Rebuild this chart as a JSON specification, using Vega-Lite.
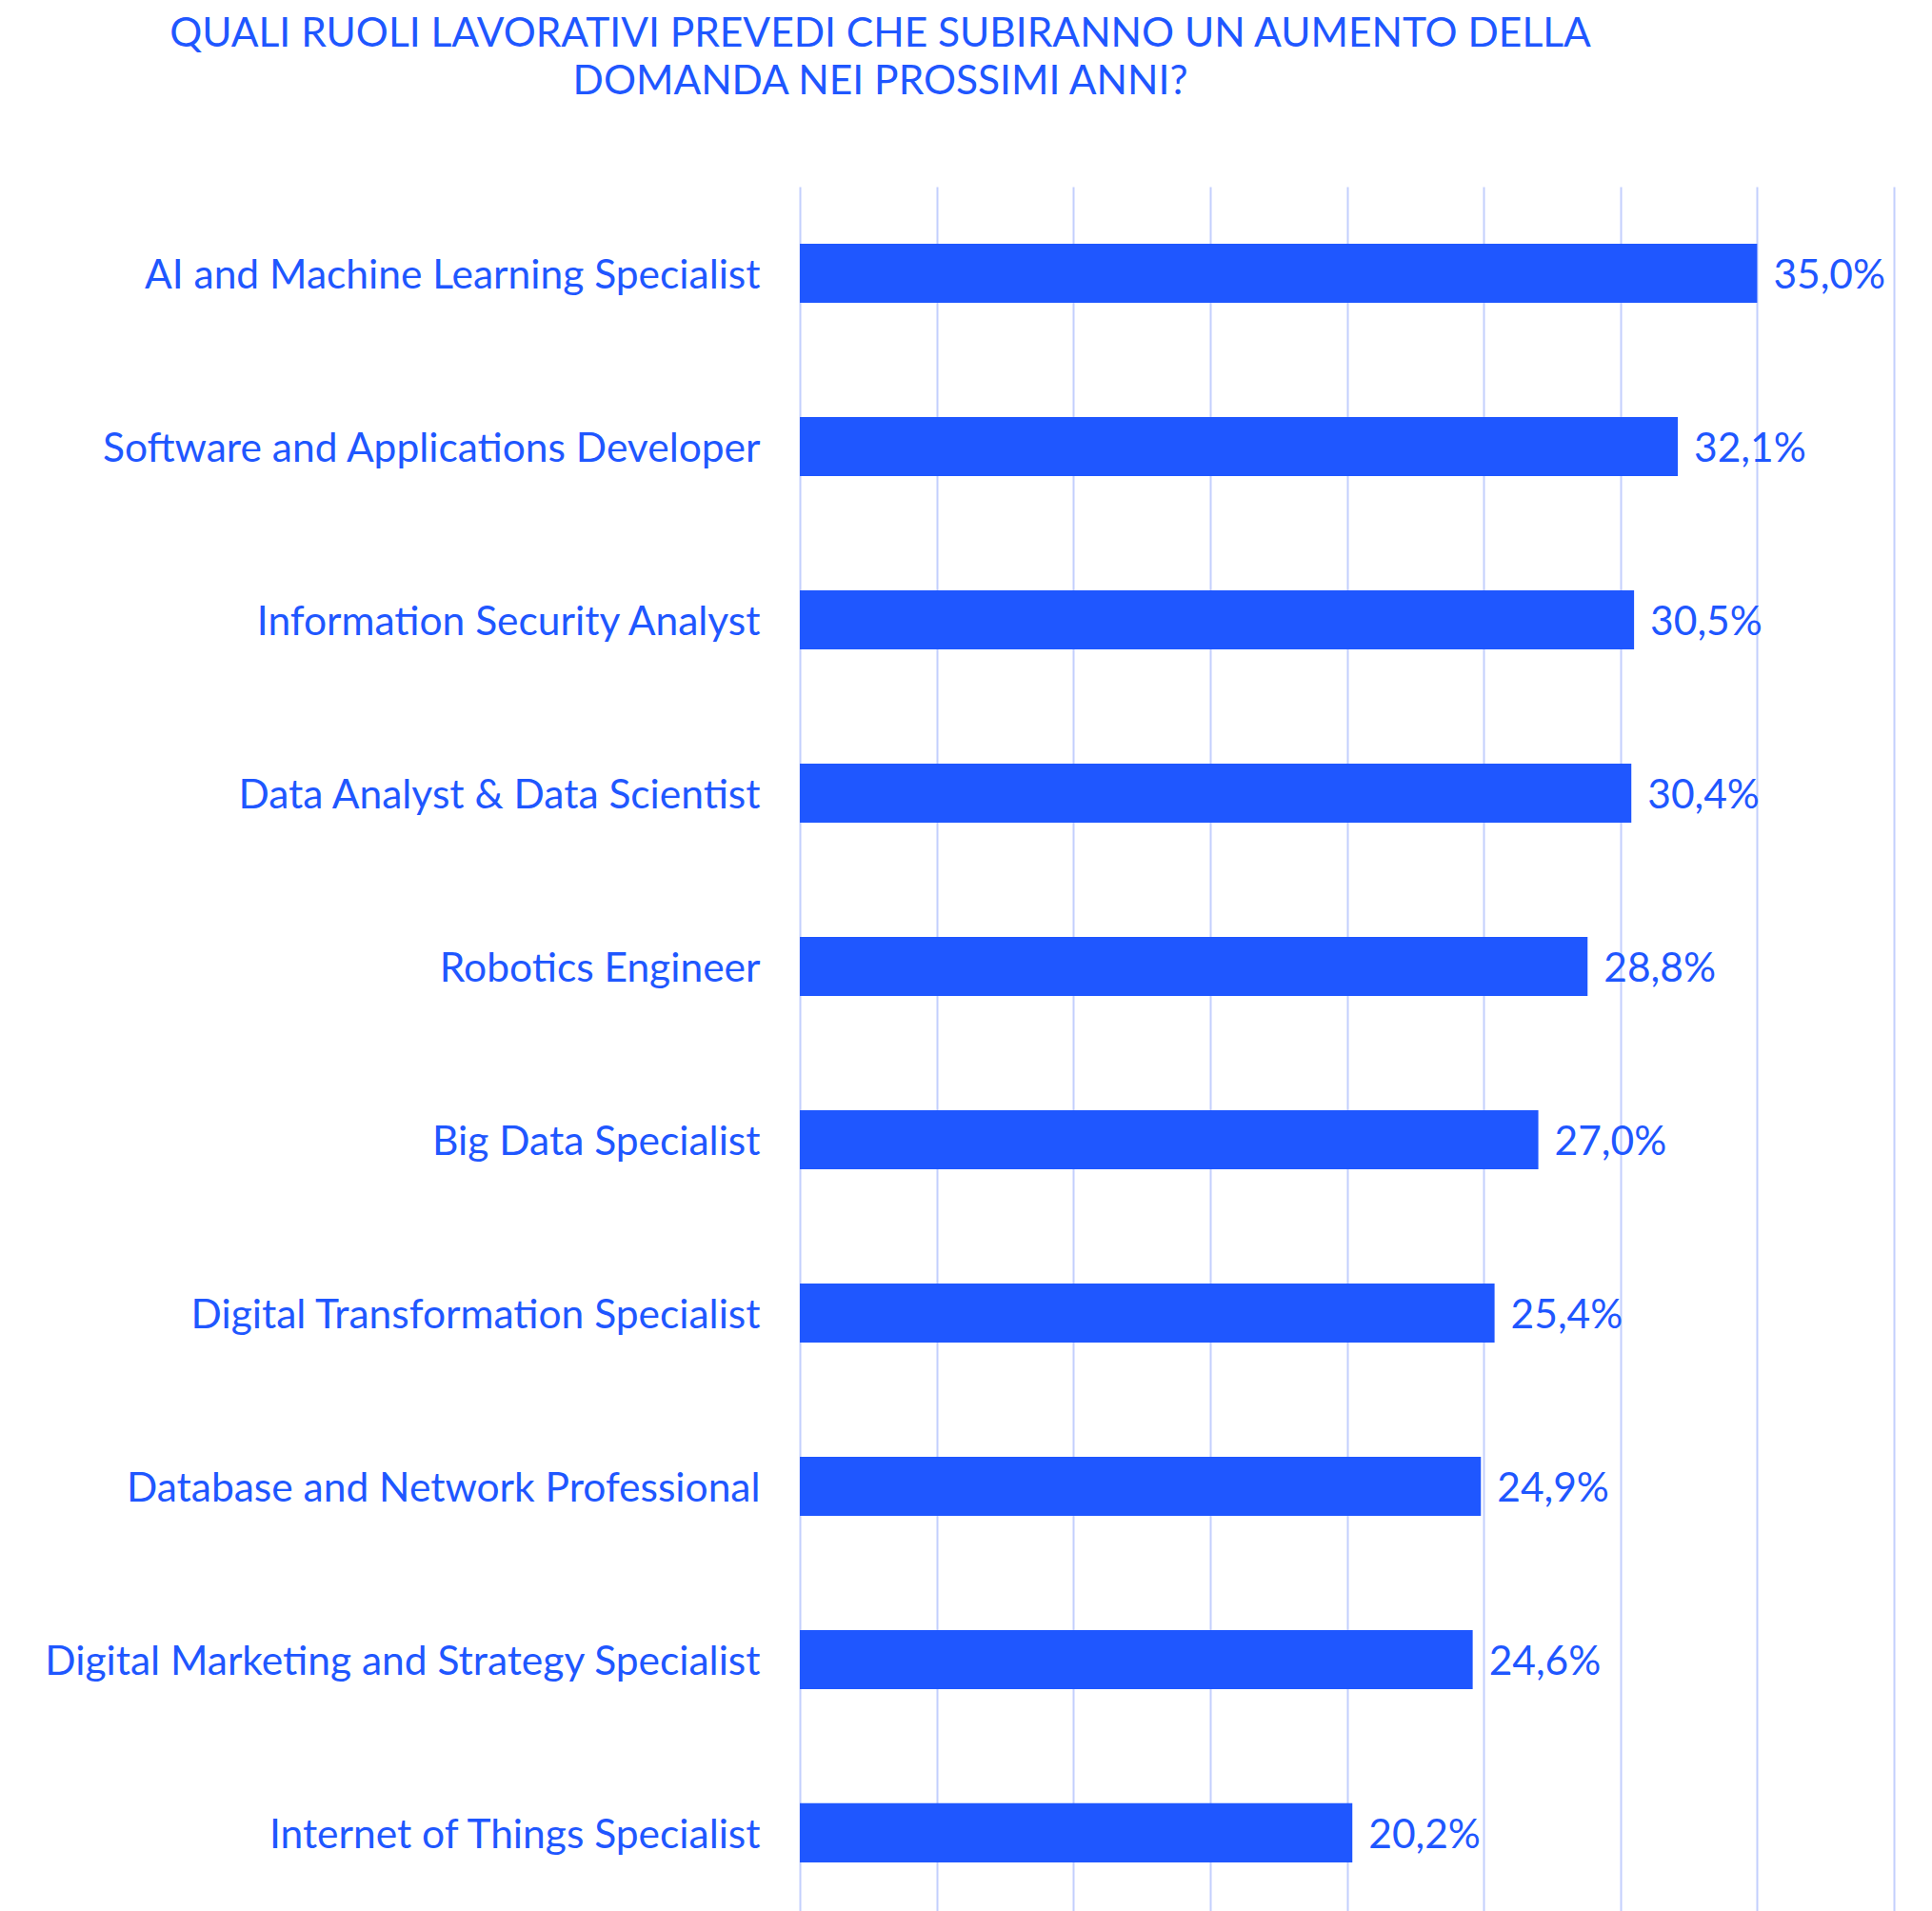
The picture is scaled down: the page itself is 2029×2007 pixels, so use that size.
{
  "$schema": "https://vega.github.io/schema/vega-lite/v6.json",
  "width": 1149,
  "height": 1811,
  "autosize": {"type": "none"},
  "padding": {"left": 840, "top": 196, "right": 40, "bottom": 0},
  "background": "white",
  "config": {
    "locale": {"number": {"decimal": ",", "thousands": ".", "grouping": [3], "currency": ["€", ""]}},
    "view": {"stroke": null},
    "font": "Lato"
  },
  "title": {
    "text": ["QUALI RUOLI LAVORATIVI PREVEDI CHE SUBIRANNO UN AUMENTO DELLA", "DOMANDA NEI PROSSIMI ANNI?"],
    "font": "Lato",
    "fontSize": 42.5,
    "fontWeight": "normal",
    "color": "#1f57ff",
    "anchor": "middle",
    "dx": -490,
    "lineHeight": 50,
    "offset": 89
  },
  "data": {
    "values": [
      {"ruolo": "AI and Machine Learning Specialist", "valore": 0.350},
      {"ruolo": "Software and Applications Developer", "valore": 0.321},
      {"ruolo": "Information Security Analyst", "valore": 0.305},
      {"ruolo": "Data Analyst & Data Scientist", "valore": 0.304},
      {"ruolo": "Robotics Engineer", "valore": 0.288},
      {"ruolo": "Big Data Specialist", "valore": 0.270},
      {"ruolo": "Digital Transformation Specialist", "valore": 0.254},
      {"ruolo": "Database and Network Professional", "valore": 0.249},
      {"ruolo": "Digital Marketing and Strategy Specialist", "valore": 0.246},
      {"ruolo": "Internet of Things Specialist", "valore": 0.202}
    ]
  },
  "encoding": {
    "y": {
      "field": "ruolo",
      "type": "nominal",
      "sort": null,
      "scale": {"paddingInner": 0.659, "paddingOuter": 0.305, "align": 0.54},
      "axis": {
        "title": null,
        "domain": false,
        "ticks": false,
        "labelFont": "Lato",
        "labelFontSize": 42.5,
        "labelColor": "#1f57ff",
        "labelPadding": 42,
        "labelLimit": 1000,
        "labelOffset": 3
      }
    },
    "x": {
      "field": "valore",
      "type": "quantitative",
      "scale": {"domain": [0, 0.4], "nice": false},
      "axis": {
        "title": null,
        "values": [0, 0.05, 0.1, 0.15, 0.2, 0.25, 0.3, 0.35, 0.4],
        "labels": false,
        "ticks": false,
        "domain": false,
        "grid": true,
        "gridColor": "#c3cffd",
        "gridWidth": 2
      }
    }
  },
  "layer": [
    {"mark": {"type": "bar", "color": "#1f57ff"}},
    {
      "mark": {"type": "text", "align": "left", "baseline": "middle", "dx": 17, "dy": 3, "font": "Lato", "fontSize": 42.5, "color": "#1f57ff"},
      "encoding": {"text": {"field": "valore", "type": "quantitative", "format": ".1%"}}
    }
  ]
}
